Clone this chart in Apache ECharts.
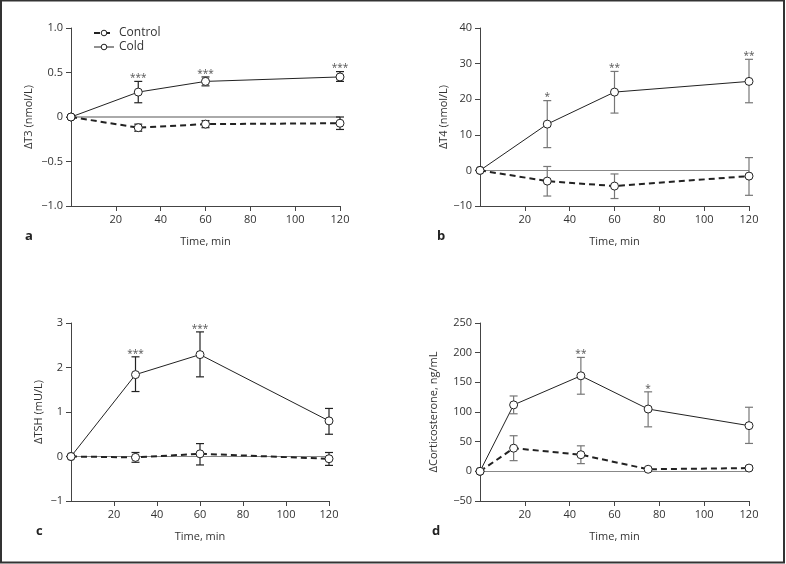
<!DOCTYPE html>
<html>
<head>
<meta charset="utf-8">
<script src="https://cdn.jsdelivr.net/npm/echarts@6/dist/echarts.min.js"></script>
<style>
html,body{margin:0;padding:0;background:#fff;}
#chart{width:786px;height:564px;}
</style>
</head>
<body>
<div id="chart"></div>
<script>
// ---- data ----
const timesABC = [0, 30, 60, 120];
const timesD = [0, 15, 45, 75, 120];

// Panel a: ΔT3 (nmol/L)
const t3Cold = [0, 0.28, 0.40, 0.45];
const t3ColdLo = [null, 0.16, 0.35, 0.40];
const t3ColdHi = [null, 0.40, 0.45, 0.51];
const t3Ctrl = [0, -0.12, -0.08, -0.07];
const t3CtrlLo = [null, -0.16, -0.12, -0.14];
const t3CtrlHi = [null, -0.08, -0.04, 0.0];
const t3Stars = ['', '***', '***', '***'];

// Panel b: ΔT4 (nmol/L)
const t4Cold = [0, 13, 22, 25];
const t4ColdLo = [null, 6.4, 16.1, 19];
const t4ColdHi = [null, 19.6, 27.8, 31.2];
const t4Ctrl = [0, -3, -4.4, -1.6];
const t4CtrlLo = [null, -7.2, -7.9, -7.0];
const t4CtrlHi = [null, 1.1, -1.0, 3.6];
const t4Stars = ['', '*', '**', '**'];

// Panel c: ΔTSH (mU/L)
const tshCold = [0, 1.84, 2.29, 0.80];
const tshColdLo = [null, 1.46, 1.79, 0.50];
const tshColdHi = [null, 2.24, 2.80, 1.08];
const tshCtrl = [0, -0.02, 0.06, -0.05];
const tshCtrlLo = [null, -0.13, -0.19, -0.20];
const tshCtrlHi = [null, 0.09, 0.29, 0.09];
const tshStars = ['', '***', '***', ''];

// Panel d: ΔCorticosterone, ng/mL
const corCold = [0, 112, 161, 105, 77];
const corColdLo = [null, 97, 130, 75, 47];
const corColdHi = [null, 127, 192, 134, 108];
const corCtrl = [0, 39, 28, 3.5, 5.5];
const corCtrlLo = [null, 18, 13, 2, 2];
const corCtrlHi = [null, 60, 43, 5, 9];
const corStars = ['', '', '**', '*', ''];

const xTicks = [20, 40, 60, 80, 100, 120];
const yTicksA = [-1, -0.5, 0, 0.5, 1];
const yTicksB = [-10, 0, 10, 20, 30, 40];
const yTicksC = [-1, 0, 1, 2, 3];
const yTicksD = [-50, 0, 50, 100, 150, 200, 250];

// ---- chart ----
const FONT = '"Open Sans", "DejaVu Sans", sans-serif';
const chart = echarts.init(document.getElementById('chart'));

const grids = [
  {left: 71, top: 28, width: 269, height: 178},
  {left: 480, top: 28, width: 269, height: 178},
  {left: 71, top: 323, width: 258, height: 178},
  {left: 480, top: 323, width: 269, height: 178}
];

function fmtNum(v, dec) {
  const s = Math.abs(v).toFixed(v === 0 ? 0 : dec);
  return (v < 0 ? '\u2212' : '') + s;
}

function xAxisDef(i) {
  return {
    type: 'value', gridIndex: i, min: 0, max: 120, interval: 20,
    name: 'Time, min', nameLocation: 'middle', nameGap: 30,
    nameTextStyle: {fontFamily: FONT, fontSize: 11, color: '#333'},
    axisLine: {onZero: false, lineStyle: {color: '#444', width: 1}},
    axisTick: {show: true, length: 5, customValues: xTicks, lineStyle: {color: '#444'}},
    axisLabel: {customValues: xTicks, fontFamily: FONT, fontSize: 11, color: '#333', margin: 8},
    splitLine: {show: false}
  };
}
function yAxisDef(i, min, max, interval, name, gap, dec, ticks) {
  return {
    type: 'value', gridIndex: i, min: min, max: max, interval: interval,
    name: name, nameLocation: 'middle', nameGap: gap,
    nameTextStyle: {fontFamily: FONT, fontSize: 11, color: '#333'},
    axisLine: {show: true, onZero: false, lineStyle: {color: '#444', width: 1}},
    axisTick: {show: true, length: 5, customValues: ticks, lineStyle: {color: '#444'}},
    axisLabel: {customValues: ticks, fontFamily: FONT, fontSize: 11, color: '#333', margin: 8,
      formatter: v => fmtNum(v, dec)},
    splitLine: {show: false}
  };
}

function pairs(xs, ys) { return xs.map((x, k) => [x, ys[k]]); }
function errData(xs, lo, hi) {
  const out = [];
  xs.forEach((x, k) => { if (lo[k] !== null) out.push([x, lo[k], hi[k]]); });
  return out;
}
function starData(xs, hi, stars) {
  const out = [];
  xs.forEach((x, k) => { if (stars[k]) out.push([x, hi[k], k]); });
  return out;
}

function errSeries(i, xs, lo, hi, color) {
  return {
    type: 'custom', xAxisIndex: i, yAxisIndex: i, silent: true, z: 3,
    data: errData(xs, lo, hi),
    renderItem: function (params, api) {
      const x = api.value(0);
      const a = api.coord([x, api.value(1)]);
      const b = api.coord([x, api.value(2)]);
      const w = 4;
      const st = {stroke: color, lineWidth: 1.2};
      return {type: 'group', children: [
        {type: 'line', shape: {x1: a[0], y1: a[1], x2: b[0], y2: b[1]}, style: st},
        {type: 'line', shape: {x1: a[0] - w, y1: a[1], x2: a[0] + w, y2: a[1]}, style: st},
        {type: 'line', shape: {x1: b[0] - w, y1: b[1], x2: b[0] + w, y2: b[1]}, style: st}
      ]};
    }
  };
}
function starSeries(i, xs, hi, stars) {
  return {
    type: 'custom', xAxisIndex: i, yAxisIndex: i, silent: true, z: 4,
    data: starData(xs, hi, stars),
    renderItem: function (params, api) {
      const x = api.value(0);
      const p = api.coord([x, api.value(1)]);
      const k = api.value(2);
      return {type: 'text', x: p[0], y: p[1] - 3,
        style: {text: stars[k], fontFamily: FONT, fontSize: 10, fill: '#555',
          align: 'center', verticalAlign: 'middle'}};
    }
  };
}
function lineSeries(i, name, xs, ys, dashed, withZero, zeroColor, zeroWidth) {
  const s = {
    type: 'line', name: name, xAxisIndex: i, yAxisIndex: i, z: 5,
    data: pairs(xs, ys),
    symbol: 'circle', symbolSize: 8,
    itemStyle: {color: '#fff', borderColor: '#222', borderWidth: 1},
    lineStyle: dashed ? {color: '#222', width: 2, type: [6, 4]} : {color: '#222', width: 1},
    animation: false
  };
  if (withZero) {
    s.markLine = {silent: true, symbol: 'none', label: {show: false}, z: 1,
      lineStyle: {color: zeroColor, width: zeroWidth, type: 'solid'},
      data: [{yAxis: 0}]};
  }
  return s;
}

const series = [];
// panel a
series.push(lineSeries(0, 'Control', timesABC, t3Ctrl, true, true, '#aaa', 2));
series.push(lineSeries(0, 'Cold', timesABC, t3Cold, false));
series.push(errSeries(0, timesABC, t3CtrlLo, t3CtrlHi, '#222'));
series.push(errSeries(0, timesABC, t3ColdLo, t3ColdHi, '#222'));
series.push(starSeries(0, timesABC, t3ColdHi, t3Stars));
// panel b
series.push(lineSeries(1, 'Control', timesABC, t4Ctrl, true, true, '#888', 1));
series.push(lineSeries(1, 'Cold', timesABC, t4Cold, false));
series.push(errSeries(1, timesABC, t4CtrlLo, t4CtrlHi, '#777'));
series.push(errSeries(1, timesABC, t4ColdLo, t4ColdHi, '#777'));
series.push(starSeries(1, timesABC, t4ColdHi, t4Stars));
// panel c
series.push(lineSeries(2, 'Control', timesABC, tshCtrl, true, true, '#888', 1));
series.push(lineSeries(2, 'Cold', timesABC, tshCold, false));
series.push(errSeries(2, timesABC, tshCtrlLo, tshCtrlHi, '#222'));
series.push(errSeries(2, timesABC, tshColdLo, tshColdHi, '#222'));
series.push(starSeries(2, timesABC, tshColdHi, tshStars));
// panel d
series.push(lineSeries(3, 'Control', timesD, corCtrl, true, true, '#888', 1));
series.push(lineSeries(3, 'Cold', timesD, corCold, false));
series.push(errSeries(3, timesD, corCtrlLo, corCtrlHi, '#777'));
series.push(errSeries(3, timesD, corColdLo, corColdHi, '#777'));
series.push(starSeries(3, timesD, corColdHi, corStars));

const option = {
  animation: false,
  backgroundColor: '#fff',
  grid: grids,
  xAxis: [xAxisDef(0), xAxisDef(1), xAxisDef(2), xAxisDef(3)],
  yAxis: [
    yAxisDef(0, -1, 1, 0.5, '\u0394T3 (nmol/L)', 37, 1, yTicksA),
    yAxisDef(1, -10, 40, 10, '\u0394T4 (nmol/L)', 30, 0, yTicksB),
    yAxisDef(2, -1, 3, 1, '\u0394TSH (mU/L)', 27, 0, yTicksC),
    yAxisDef(3, -50, 250, 50, '\u0394Corticosterone, ng/mL', 41, 0, yTicksD)
  ],
  legend: {
    data: [
      {name: 'Control', itemStyle: {borderWidth: 1, color: '#fff', borderColor: '#222'}, lineStyle: {width: 2}},
      {name: 'Cold', itemStyle: {borderWidth: 1, color: '#fff', borderColor: '#222'}, lineStyle: {width: 1}}
    ],
    orient: 'vertical', left: 93, top: 27, padding: 0,
    itemWidth: 20, itemHeight: 7, itemGap: 2,
    textStyle: {fontFamily: FONT, fontSize: 12, color: '#333', lineHeight: 11},
    selectedMode: false
  },
  graphic: [
    {type: 'rect', shape: {x: 1, y: 0.5, width: 783, height: 562},
      style: {fill: 'none', stroke: '#333', lineWidth: 2}, silent: true},
    {type: 'text', left: 25, top: 230, style: {text: 'a', font: 'bold 13px ' + FONT, fill: '#222'}},
    {type: 'text', left: 437, top: 230, style: {text: 'b', font: 'bold 13px ' + FONT, fill: '#222'}},
    {type: 'text', left: 36, top: 525, style: {text: 'c', font: 'bold 13px ' + FONT, fill: '#222'}},
    {type: 'text', left: 432, top: 525, style: {text: 'd', font: 'bold 13px ' + FONT, fill: '#222'}}
  ],
  series: series
};
chart.setOption(option);
</script>
</body>
</html>
